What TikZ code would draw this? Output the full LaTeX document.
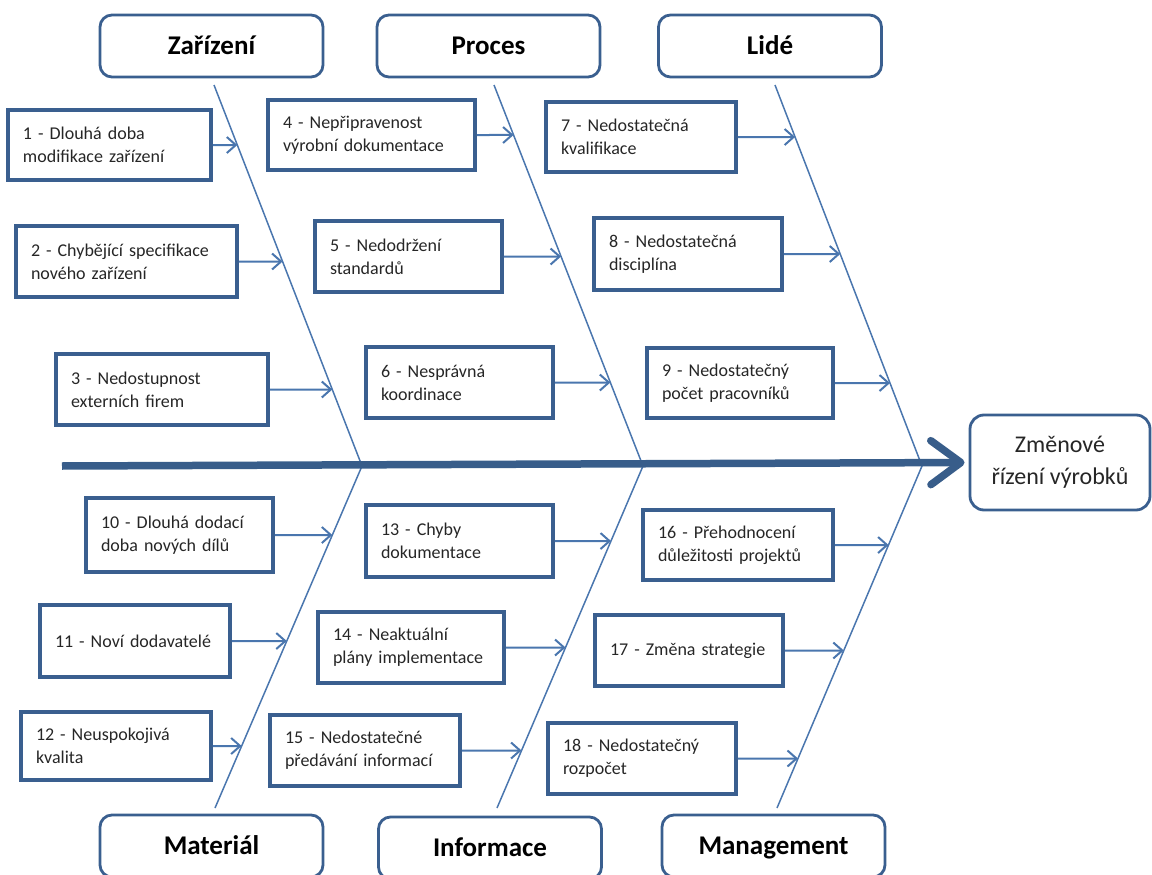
\documentclass[tikz,border=0pt]{standalone}
\usepackage{fontspec}
\setmainfont{Carlito}
\usetikzlibrary{arrows.meta}
\definecolor{boxc}{HTML}{3A5F8F}
\definecolor{linec}{HTML}{4A76AE}
\definecolor{mainc}{HTML}{385D8A}
\definecolor{txt}{HTML}{262626}
\begin{document}
\begin{tikzpicture}[x=1pt,y=-1pt,
  cat/.style={draw=boxc, line width=2.8pt, rounded corners=12pt, minimum width=223pt, minimum height=62pt, text height=20pt, text depth=3pt, font=\fontsize{27}{32}\selectfont\bfseries, text=black},
  effect/.style={draw=boxc, line width=2.8pt, rounded corners=14pt, minimum width=180pt, minimum height=95pt, align=center, font=\fontsize{24}{32}\selectfont, text=txt},
  cause/.style={draw=boxc, line width=3.5pt, align=left, inner xsep=15pt, font=\fontsize{18}{23}\selectfont, text=txt},
  bone/.style={draw=linec, line width=1.5pt},
  arr/.style={draw=linec, line width=2pt, -{Straight Barb[length=9pt,width=16pt]}},
  mainarrow/.style={draw=mainc, line width=7.5pt, -{Straight Barb[length=30pt,width=44pt,round]}}
]
\useasboundingbox (0,0) rectangle (1152,875);
\clip (0,0) rectangle (1152,875);

% category boxes
\node[cat] (zar) at (211.5,46) {Zařízení};
\node[cat] (pro) at (488.5,46) {Proces};
\node[cat] (lid) at (770,46) {Lidé};
\node[cat] (mat) at (211.5,846) {Materiál};
\node[cat] (inf) at (490,848) {Informace};
\node[cat] (man) at (773.5,846) {Management};

% effect
\node[effect] (eff) at (1060,462.5) {Změnové\\řízení výrobků};

% bones
\coordinate (Zt) at (214,85);
\coordinate (J1) at (362,466);
\coordinate (Mb) at (215,808);
\coordinate (Pt) at (494,85);
\coordinate (J2) at (643,466);
\coordinate (Ib) at (497,808);
\coordinate (Lt) at (775,85);
\coordinate (J3) at (922,466);
\coordinate (Gb) at (777,808);
\coordinate (tail) at (62,466);

\draw[bone] (Zt) -- (J1) -- (Mb);
\draw[bone] (Pt) -- (J2) -- (Ib);
\draw[bone] (Lt) -- (J3) -- (Gb);

\draw[mainarrow, shorten >=4pt] (tail) -- (eff.west);

% causes
\node[cause, text width=173pt, minimum height=70pt] (c1) at (109.5,145) {1 - Dlouhá doba\\modifikace zařízení};
\node[cause, text width=191pt, minimum height=71pt] (c2) at (126.5,261.5) {2 - Chybějící specifikace\\nového zařízení};
\node[cause, text width=182pt, minimum height=71pt] (c3) at (162,389.5) {3 - Nedostupnost\\externích firem};
\node[cause, text width=177pt, minimum height=70pt] (c4) at (371.5,135) {4 - Nepřipravenost\\výrobní dokumentace};
\node[cause, text width=157pt, minimum height=71pt] (c5) at (408.5,256.5) {5 - Nedodržení\\standardů};
\node[cause, text width=157pt, minimum height=71pt] (c6) at (459.5,382.5) {6 - Nesprávná\\koordinace};
\node[cause, text width=160pt, minimum height=70pt] (c7) at (641,137) {7 - Nedostatečná\\kvalifikace};
\node[cause, text width=158pt, minimum height=72pt] (c8) at (688,254) {8 - Nedostatečná\\disciplína};
\node[cause, text width=156pt, minimum height=70pt] (c9) at (740,383) {9 - Nedostatečný\\počet pracovníků};
\node[cause, text width=157pt, minimum height=74pt] (c10) at (179.5,535) {10 - Dlouhá dodací\\doba nových dílů};
\node[cause, text width=160pt, minimum height=72pt] (c11) at (135,641) {11 - Noví dodavatelé};
\node[cause, text width=160pt, minimum height=68pt] (c12) at (116,746) {12 - Neuspokojivá\\kvalita};
\node[cause, text width=157pt, minimum height=72pt] (c13) at (459.5,541) {13 - Chyby\\dokumentace};
\node[cause, text width=156pt, minimum height=71pt] (c14) at (411,647.5) {14 - Neaktuální\\plány implementace};
\node[cause, text width=160pt, minimum height=71pt] (c15) at (365,750.5) {15 - Nedostatečné\\předávání informací};
\node[cause, text width=160pt, minimum height=70pt] (c16) at (738,545) {16 - Přehodnocení\\důležitosti projektů};
\node[cause, text width=158pt, minimum height=71pt] (c17) at (689,650.5) {17 - Změna strategie};
\node[cause, text width=158pt, minimum height=71pt] (c18) at (642,758.5) {18 - Nedostatečný\\rozpočet};

% cause arrows
\draw[arr] (c1.east) -- (intersection of c1.east--c1.west and Zt--J1);
\draw[arr] (c2.east) -- (intersection of c2.east--c2.west and Zt--J1);
\draw[arr] (c3.east) -- (intersection of c3.east--c3.west and Zt--J1);
\draw[arr] (c4.east) -- (intersection of c4.east--c4.west and Pt--J2);
\draw[arr] (c5.east) -- (intersection of c5.east--c5.west and Pt--J2);
\draw[arr] (c6.east) -- (intersection of c6.east--c6.west and Pt--J2);
\draw[arr] (c7.east) -- (intersection of c7.east--c7.west and Lt--J3);
\draw[arr] (c8.east) -- (intersection of c8.east--c8.west and Lt--J3);
\draw[arr] (c9.east) -- (intersection of c9.east--c9.west and Lt--J3);
\draw[arr] (c10.east) -- (intersection of c10.east--c10.west and J1--Mb);
\draw[arr] (c11.east) -- (intersection of c11.east--c11.west and J1--Mb);
\draw[arr] (c12.east) -- (intersection of c12.east--c12.west and J1--Mb);
\draw[arr] (c13.east) -- (intersection of c13.east--c13.west and J2--Ib);
\draw[arr] (c14.east) -- (intersection of c14.east--c14.west and J2--Ib);
\draw[arr] (c15.east) -- (intersection of c15.east--c15.west and J2--Ib);
\draw[arr] (c16.east) -- (intersection of c16.east--c16.west and J3--Gb);
\draw[arr] (c17.east) -- (intersection of c17.east--c17.west and J3--Gb);
\draw[arr] (c18.east) -- (intersection of c18.east--c18.west and J3--Gb);
\end{tikzpicture}
\end{document}
